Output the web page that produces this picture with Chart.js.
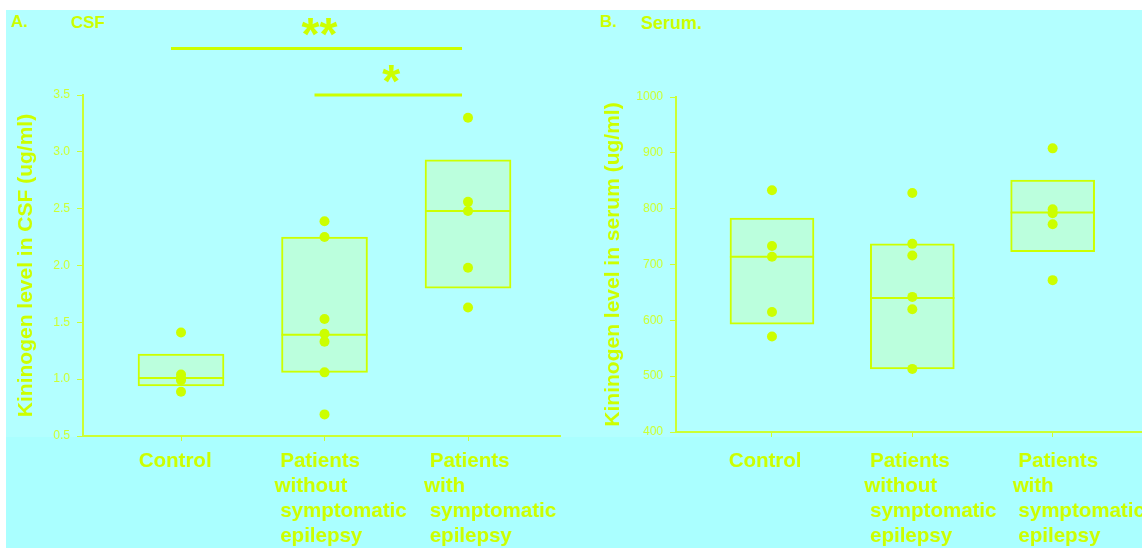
<!DOCTYPE html>
<html>
<head>
<meta charset="utf-8">
<script src="https://cdn.jsdelivr.net/npm/chart.js@4.4.1/dist/chart.umd.min.js"></script>
<style>
  body { margin: 0; width: 1142px; height: 548px; overflow: hidden; background: #fff; position: relative; font-family: "Liberation Sans", Arial, sans-serif; }
  #bg { position: absolute; left: 6px; top: 10px; right: 0; bottom: 0; background: #b3ffff; }
  #bg2 { position: absolute; left: 6px; top: 437px; right: 0; bottom: 0; background: #aaffff; }
  .wrap { position: absolute; top: 0; height: 548px; }
  #wa { left: 0; width: 570px; }
  #wb { left: 590px; width: 560px; }
  .lbl { position: absolute; color: #ccff00; font-weight: bold; line-height: 17px; white-space: nowrap; }
</style>
</head>
<body>
<div id="bg"></div>
<div id="bg2"></div>
<div class="lbl" style="left:11px; top:13px; font-size:17px;">A.</div>
<div class="lbl" style="left:71px; top:14px; font-size:17px;">CSF</div>
<div class="lbl" style="left:600px; top:13px; font-size:17px;">B.</div>
<div class="lbl" style="left:641px; top:15px; font-size:18px;">Serum.</div>
<div class="wrap" id="wa"><canvas id="csf" width="570" height="548"></canvas></div>
<div class="wrap" id="wb"><canvas id="serum" width="560" height="548"></canvas></div>
<script>
// categories
const groups = ["Control", "Patients without symptomatic epilepsy", "Patients with symptomatic epilepsy"];
const groupLines = [
  [" Control"],
  [" Patients", "without", " symptomatic", " epilepsy"],
  [" Patients", "with", " symptomatic", " epilepsy"],
];

// CSF (ug/ml)
const csfControl = [1.41, 1.04, 1.01, 0.99, 0.89];
const csfWithout = [2.39, 2.25, 1.53, 1.40, 1.33, 1.06, 0.69];
const csfWith = [3.30, 2.56, 2.48, 1.98, 1.63];
const csfQ1 = [0.94, 1.06, 1.80];
const csfMedian = [1.01, 1.39, 2.48];
const csfQ3 = [1.22, 2.25, 2.93];

// Serum (ug/ml)
const serumControl = [833, 733, 714, 615, 571];
const serumWithout = [828, 737, 716, 642, 620, 513];
const serumWith = [908, 799, 792, 772, 672];
const serumQ1 = [593, 513, 723];
const serumMedian = [714, 640, 793];
const serumQ3 = [783, 737, 851];

// significance brackets (CSF)
const sigFrom = [1, 2];
const sigTo = [3, 3];
const sigLevel = [3.91, 3.5];
const sigText = ["**", "*"];

const LIME = "#ccff00";
const AXIS = "#ccff33";
const BOX_FILL = "#bbffdd";
const BOX_HALF = 0.3;

const annot = {
  id: "annot",
  afterDraw(chart, args, opts) {
    const ctx = chart.ctx;
    const x = chart.scales.x, y = chart.scales.y;
    ctx.save();
    ctx.fillStyle = LIME;
    ctx.strokeStyle = LIME;
    // category labels
    ctx.font = "bold 20.5px 'Liberation Sans', Arial, sans-serif";
    ctx.textAlign = "left";
    ctx.textBaseline = "alphabetic";
    groupLines.forEach((lines, i) => {
      const px = x.getPixelForValue(i + 1) + opts.offsets[i];
      lines.forEach((t, j) => ctx.fillText(t, px, x.top + opts.labelTop + j * 25));
    });
    // significance
    (opts.sig || []).forEach(s => {
      const yy = y.getPixelForValue(s.level);
      const x1 = x.getPixelForValue(s.from) - 10;
      const x2 = x.getPixelForValue(s.to) - 6;
      ctx.lineWidth = 3;
      ctx.beginPath();
      ctx.moveTo(x1, yy);
      ctx.lineTo(x2, yy);
      ctx.stroke();
      ctx.font = "bold 46px 'Liberation Sans', Arial, sans-serif";
      ctx.textAlign = "center";
      ctx.fillText(s.text, (x1 + x2) / 2 + 3, yy + 2);
    });
    ctx.restore();
  }
};

function makeChart(id, cfg) {
  const values = cfg.values;
  const points = [];
  values.forEach((arr, i) => arr.forEach(v => points.push({ x: i + 1, y: v })));
  const medians = [];
  cfg.median.forEach((m, i) => {
    medians.push({ x: i + 1 - BOX_HALF, y: m }, { x: i + 1 + BOX_HALF, y: m }, { x: i + 1 + 0.5, y: null });
  });
  return new Chart(document.getElementById(id), {
    type: "bar",
    data: {
      datasets: [
        {
          type: "scatter",
          data: points,
          pointRadius: 5,
          pointBackgroundColor: LIME,
          pointBorderWidth: 0,
          order: 1,
        },
        {
          type: "line",
          data: medians,
          borderColor: LIME,
          borderWidth: 2,
          pointRadius: 0,
          spanGaps: false,
          order: 2,
        },
        {
          type: "bar",
          data: cfg.q1.map((q, i) => ({ x: i + 1, y: [q, cfg.q3[i]] })),
          backgroundColor: BOX_FILL,
          borderColor: LIME,
          borderWidth: 2,
          borderSkipped: false,
          barThickness: cfg.barWidth,
          grouped: false,
          order: 3,
        },
      ],
    },
    options: {
      responsive: false,
      animation: false,
      layout: { padding: cfg.padding },
      plugins: {
        legend: { display: false },
        tooltip: { enabled: false },
        annot: { offsets: cfg.offsets, labelTop: cfg.labelTop, sig: cfg.sig },
      },
      scales: {
        x: {
          type: "linear",
          offset: false,
          min: cfg.xMin,
          max: cfg.xMax,
          afterBuildTicks: (s) => { s.ticks = groups.map((g, i) => ({ value: i + 1 })); },
          afterFit: (s) => { s.height = cfg.xHeight; },
          ticks: { callback: () => "" },
          grid: { offset: false, drawOnChartArea: false, tickLength: 5, color: AXIS, lineWidth: 1 },
          border: { color: AXIS, width: 2 },
        },
        y: {
          min: cfg.yMin,
          max: cfg.yMax,
          afterFit: (s) => { s.width = cfg.yWidth; },
          ticks: {
            stepSize: cfg.yStep,
            color: AXIS,
            padding: 7,
            font: { size: 12, family: "'Liberation Sans', Arial, sans-serif" },
            callback: cfg.fmt,
          },
          grid: { drawOnChartArea: false, tickLength: 6, color: AXIS },
          border: { color: AXIS, width: 2 },
          title: {
            display: true,
            text: cfg.yTitle,
            color: LIME,
            font: { size: 21, weight: "bold", family: "'Liberation Sans', Arial, sans-serif" },
            padding: { top: cfg.titlePad, bottom: 0 },
          },
        },
      },
    },
    plugins: [annot],
  });
}

makeChart("csf", {
  values: [csfControl, csfWithout, csfWith],
  q1: csfQ1, median: csfMedian, q3: csfQ3,
  barWidth: 86,
  padding: { left: 0, top: 95, right: 10, bottom: 0 },
  xMin: 0.317, xMax: 3.641, xHeight: 112,
  yMin: 0.5, yMax: 3.5, yStep: 0.5, yWidth: 83,
  fmt: (v) => v.toFixed(1),
  yTitle: "Kininogen level in CSF (ug/ml)",
  titlePad: 14,
  offsets: [-48, -50, -44],
  labelTop: 31,
  sig: sigFrom.map((f, i) => ({ from: f, to: sigTo[i], level: sigLevel[i], text: sigText[i] })),
});

makeChart("serum", {
  values: [serumControl, serumWithout, serumWith],
  q1: serumQ1, median: serumMedian, q3: serumQ3,
  barWidth: 84,
  padding: { left: 0, top: 97, right: 6, bottom: 0 },
  xMin: 0.316, xMax: 3.651, xHeight: 116,
  yMin: 400, yMax: 1000, yStep: 100, yWidth: 86,
  fmt: (v) => String(v),
  yTitle: "Kininogen level in serum (ug/ml)",
  titlePad: 11,
  offsets: [-49, -48, -40],
  labelTop: 35,
  sig: [],
});
</script>
</body>
</html>
